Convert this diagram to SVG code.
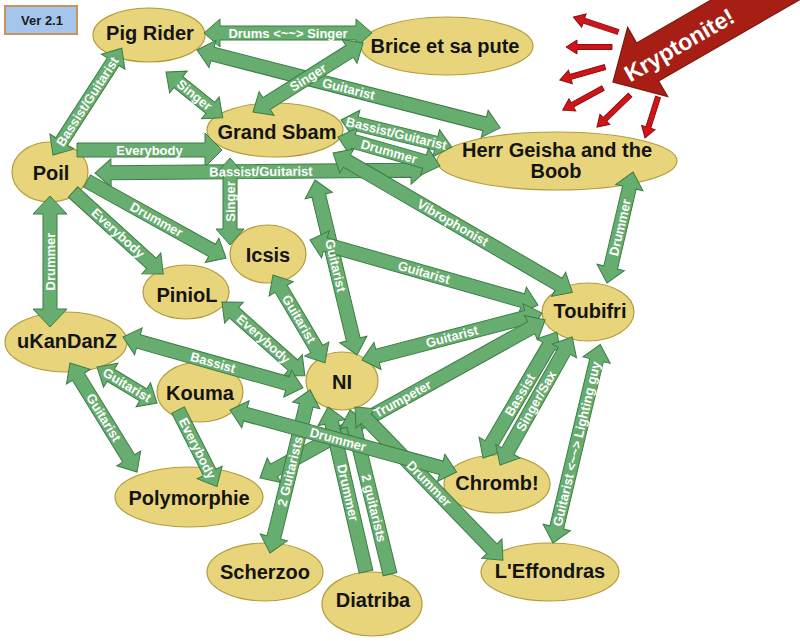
<svg xmlns="http://www.w3.org/2000/svg" width="800" height="641" viewBox="0 0 800 641">
<style>
.bg{fill:#ffffff}
.node ellipse{fill:#e8d47a;stroke:#b39c3c;stroke-width:1.2}
.nt{font-family:"Liberation Sans",Arial,sans-serif;font-weight:bold;font-size:20px;fill:#141414;text-anchor:middle}
.arr polygon{fill:#67ad6f;stroke:#3b7d45;stroke-width:1}
.lbl{font-family:"Liberation Sans",Arial,sans-serif;font-weight:bold;font-size:13px;fill:#ffffff;text-anchor:middle}
.red{fill:#d2141a;stroke:#8a0f0f;stroke-width:1}
</style>
<rect class="bg" x="0" y="0" width="800" height="641"/>

<g id="version">
<rect x="5" y="6" width="72" height="28" fill="#a4c6ec" stroke="#c8945a" stroke-width="2"/>
<text x="42" y="25" font-family="Liberation Sans, Arial, sans-serif" font-weight="bold" font-size="13" fill="#1a1a1a" text-anchor="middle">Ver 2.1</text>
</g>

<g id="nodes">
<g id="pig-rider" class="node"><ellipse cx="149" cy="35" rx="56" ry="27"/><text class="nt" x="150" y="40">Pig Rider</text></g>
<g id="brice" class="node"><ellipse cx="447" cy="46" rx="86" ry="29"/><text class="nt" x="445" y="53">Brice et sa pute</text></g>
<g id="grand-sbam" class="node"><ellipse cx="275" cy="130" rx="68" ry="27"/><text class="nt" x="277" y="139">Grand Sbam</text></g>
<g id="herr-geisha" class="node"><ellipse cx="557" cy="161" rx="120" ry="29"/><text class="nt" x="557" y="157">Herr Geisha and the</text><text class="nt" x="556" y="178">Boob</text></g>
<g id="poil" class="node"><ellipse cx="50" cy="172" rx="38" ry="30"/><text class="nt" x="51" y="180">Poil</text></g>
<g id="icsis" class="node"><ellipse cx="268" cy="254" rx="38" ry="29"/><text class="nt" x="268" y="262">Icsis</text></g>
<g id="pinio" class="node"><ellipse cx="186" cy="292" rx="43" ry="27"/><text class="nt" x="187" y="302">PinioL</text></g>
<g id="ukandanz" class="node"><ellipse cx="66" cy="342" rx="61" ry="30"/><text class="nt" x="67" y="348">uKanDanZ</text></g>
<g id="ni" class="node"><ellipse cx="342" cy="381" rx="36" ry="29"/><text class="nt" x="342" y="389">NI</text></g>
<g id="toubifri" class="node"><ellipse cx="588" cy="312" rx="46" ry="29"/><text class="nt" x="590" y="318">Toubifri</text></g>
<g id="kouma" class="node"><ellipse cx="200" cy="392" rx="43" ry="30"/><text class="nt" x="200" y="400">Kouma</text></g>
<g id="polymorphie" class="node"><ellipse cx="189" cy="497" rx="74" ry="30"/><text class="nt" x="189" y="505">Polymorphie</text></g>
<g id="scherzoo" class="node"><ellipse cx="265" cy="572" rx="58" ry="29"/><text class="nt" x="265" y="579">Scherzoo</text></g>
<g id="diatriba" class="node"><ellipse cx="372" cy="604" rx="50" ry="32"/><text class="nt" x="373" y="607">Diatriba</text></g>
<g id="chromb" class="node"><ellipse cx="497" cy="484" rx="53" ry="29"/><text class="nt" x="497" y="490">Chromb!</text></g>
<g id="leffondras" class="node"><ellipse cx="550" cy="572" rx="69" ry="29"/><text class="nt" x="550" y="578">L'Effondras</text></g>
</g>

<g id="connectors" class="arr">
<polygon transform="translate(204,33)" points="0,0 16,-14 16,-7 152,-7 152,-14 168,0 152,14 152,7 16,7 16,14"/>
<polygon transform="translate(53,155) rotate(-57.2)" points="0,0 16,-14 16,-7 111,-7 111,-14 127,0 111,14 111,7 16,7 16,14"/>
<polygon transform="translate(166,72) rotate(38.9)" points="0,0 16,-14 16,-7 57,-7 57,-14 73,0 57,14 57,7 16,7 16,14"/>
<polygon transform="translate(197,50) rotate(14.4)" points="0,0 16,-14 16,-7 297,-7 297,-14 313,0 297,14 297,7 16,7 16,14"/>
<polygon transform="translate(253,112) rotate(-32.1)" points="0,0 16,-14 16,-7 114,-7 114,-14 130,0 114,14 114,7 16,7 16,14"/>
<polygon transform="translate(77,150)" points="0,-7 128,-7 128,-17 145,0 128,17 128,7 0,7"/>
<polygon transform="translate(315,180) rotate(76.5)" points="0,0 16,-14 16,-7 164,-7 164,-14 180,0 164,14 164,7 16,7 16,14"/>
<polygon transform="translate(95,173) rotate(-0.5)" points="0,0 16,-14 16,-7 316,-7 316,-14 332,0 316,14 316,7 16,7 16,14"/>
<polygon transform="translate(341,120) rotate(13.7)" points="0,0 16,-14 16,-7 98,-7 98,-14 114,0 98,14 98,7 16,7 16,14"/>
<polygon transform="translate(338,137) rotate(15.9)" points="0,0 16,-14 16,-7 90,-7 90,-14 106,0 90,14 90,7 16,7 16,14"/>
<polygon transform="translate(230,245) rotate(-90)" points="0,0 16,-14 16,-7 71,-7 71,-14 87,0 71,14 71,7 16,7 16,14"/>
<polygon transform="translate(73,192) rotate(42.3)" points="0,-7 106,-7 106,-14 122,0 106,14 106,7 0,7"/>
<polygon transform="translate(87,181) rotate(29)" points="0,-7 143,-7 143,-14 159,0 143,14 143,7 0,7"/>
<polygon transform="translate(50,327) rotate(-90)" points="0,0 18,-17 18,-7 113,-7 113,-17 131,0 113,17 113,7 18,7 18,17"/>
<polygon transform="translate(273,275) rotate(59.4)" points="0,0 16,-14 16,-7 86,-7 86,-14 102,0 86,14 86,7 16,7 16,14"/>
<polygon transform="translate(222,302) rotate(41.7)" points="0,0 16,-14 16,-7 95,-7 95,-14 111,0 95,14 95,7 16,7 16,14"/>
<polygon transform="translate(123,337) rotate(15.8)" points="0,0 16,-14 16,-7 171,-7 171,-14 187,0 171,14 171,7 16,7 16,14"/>
<polygon transform="translate(333,153) rotate(30.2)" points="0,0 16,-14 16,-7 261,-7 261,-14 277,0 261,14 261,7 16,7 16,14"/>
<polygon transform="translate(310,240) rotate(15.9)" points="0,0 16,-14 16,-7 221,-7 221,-14 237,0 221,14 221,7 16,7 16,14"/>
<polygon transform="translate(362,360) rotate(-14.6)" points="0,0 16,-14 16,-7 170,-7 170,-14 186,0 170,14 170,7 16,7 16,14"/>
<polygon transform="translate(260,478) rotate(-29)" points="0,0 16,-14 16,-7 310,-7 310,-14 326,0 310,14 310,7 16,7 16,14"/>
<polygon transform="translate(270,553) rotate(-76.2)" points="0,0 16,-14 16,-7 152,-7 152,-14 168,0 152,14 152,7 16,7 16,14"/>
<polygon transform="translate(328,407) rotate(77)" points="0,0 16,-14 16,-7 169,-7 169,7 16,7 16,14"/>
<polygon transform="translate(350,410) rotate(76.3)" points="0,0 16,-14 16,-7 169,-7 169,7 16,7 16,14"/>
<polygon transform="translate(355,407) rotate(46)" points="0,0 16,-14 16,-7 197,-7 197,-14 213,0 197,14 197,7 16,7 16,14"/>
<polygon transform="translate(230,410) rotate(15.3)" points="0,0 16,-14 16,-7 219,-7 219,-14 235,0 219,14 219,7 16,7 16,14"/>
<polygon transform="translate(483,458) rotate(-59.6)" points="0,0 16,-14 16,-7 130,-7 130,-14 146,0 130,14 130,7 16,7 16,14"/>
<polygon transform="translate(500,465) rotate(-60.6)" points="0,0 16,-14 16,-7 131,-7 131,-14 147,0 131,14 131,7 16,7 16,14"/>
<polygon transform="translate(553,543) rotate(-76.6)" points="0,0 16,-14 16,-7 188,-7 188,-14 204,0 188,14 188,7 16,7 16,14"/>
<polygon transform="translate(607,283) rotate(-76.8)" points="0,0 16,-14 16,-7 98,-7 98,-14 114,0 98,14 98,7 16,7 16,14"/>
<polygon transform="translate(97,367) rotate(31)" points="0,0 16,-14 16,-7 54,-7 54,-14 70,0 54,14 54,7 16,7 16,14"/>
<polygon transform="translate(70,363) rotate(58.4)" points="0,0 16,-14 16,-7 112,-7 112,-14 128,0 112,14 112,7 16,7 16,14"/>
<polygon transform="translate(178,410) rotate(63.1)" points="0,-7 70,-7 70,-14 86,0 70,14 70,7 0,7"/>
</g>

<g id="connector-labels">
<text class="lbl" transform="translate(204,33)" x="84" y="4.5">Drums &lt;~~&gt; Singer</text>
<text class="lbl" transform="translate(53,155) rotate(-57.2)" x="63.5" y="4.5">Bassist/Guitarist</text>
<text class="lbl" transform="translate(166,72) rotate(38.9)" x="36.5" y="4.5">Singer</text>
<text class="lbl" transform="translate(197,50) rotate(14.4)" x="156.5" y="4.5">Guitarist</text>
<text class="lbl" transform="translate(253,112) rotate(-32.1)" x="65" y="4.5">Singer</text>
<text class="lbl" transform="translate(77,150)" x="72.5" y="4.5">Everybody</text>
<text class="lbl" transform="translate(315,180) rotate(76.5)" x="88" y="4.5">Guitarist</text>
<text class="lbl" transform="translate(95,173) rotate(-0.5)" x="166" y="4.5">Bassist/Guitarist</text>
<text class="lbl" transform="translate(341,120) rotate(13.7)" x="57" y="4.5">Bassist/Guitarist</text>
<text class="lbl" transform="translate(338,137) rotate(15.9)" x="53" y="4.5">Drummer</text>
<text class="lbl" transform="translate(230,245) rotate(-90)" x="43.5" y="4.5">Singer</text>
<text class="lbl" transform="translate(73,192) rotate(42.3)" x="61" y="4.5">Everybody</text>
<text class="lbl" transform="translate(87,181) rotate(29)" x="79.5" y="4.5">Drummer</text>
<text class="lbl" transform="translate(50,327) rotate(-90)" x="65.5" y="4.5">Drummer</text>
<text class="lbl" transform="translate(273,275) rotate(59.4)" x="51" y="4.5">Guitarist</text>
<text class="lbl" transform="translate(222,302) rotate(41.7)" x="55.5" y="4.5">Everybody</text>
<text class="lbl" transform="translate(123,337) rotate(15.8)" x="93.5" y="4.5">Bassist</text>
<text class="lbl" transform="translate(333,153) rotate(30.2)" x="138.5" y="4.5">Vibrophonist</text>
<text class="lbl" transform="translate(310,240) rotate(15.9)" x="118.5" y="4.5">Guitarist</text>
<text class="lbl" transform="translate(362,360) rotate(-14.6)" x="93" y="4.5">Guitarist</text>
<text class="lbl" transform="translate(260,478) rotate(-29)" x="163" y="4.5">Trumpeter</text>
<text class="lbl" transform="translate(270,553) rotate(-76.2)" x="84" y="4.5">2 Guitarists</text>
<text class="lbl" transform="translate(328,407) rotate(77)" x="88" y="4.5">Drummer</text>
<text class="lbl" transform="translate(350,410) rotate(76.3)" x="101" y="4.5">2 guitarists</text>
<text class="lbl" transform="translate(355,407) rotate(46)" x="106.5" y="4.5">Drummer</text>
<text class="lbl" transform="translate(230,410) rotate(15.3)" x="112" y="4.5">Drummer</text>
<text class="lbl" transform="translate(483,458) rotate(-59.6)" x="73" y="4.5">Bassist</text>
<text class="lbl" transform="translate(500,465) rotate(-60.6)" x="73.5" y="4.5">Singer/Sax</text>
<text class="lbl" transform="translate(553,543) rotate(-76.6)" x="102" y="4.5">Guitarist &lt;~~&gt; Lighting guy</text>
<text class="lbl" transform="translate(607,283) rotate(-76.8)" x="57" y="4.5">Drummer</text>
<text class="lbl" transform="translate(97,367) rotate(31)" x="35" y="4.5">Guitarist</text>
<text class="lbl" transform="translate(70,363) rotate(58.4)" x="64" y="4.5">Guitarist</text>
<text class="lbl" transform="translate(178,410) rotate(63.1)" x="43" y="4.5">Everybody</text>
</g>

<g id="kryptonite">
<g transform="translate(613,82) rotate(-30)">
<polygon points="0,0 40,-40 40,-22 260,-22 260,22 40,22 40,40" fill="#a61e14" stroke="#7d1a10" stroke-width="1.2"/>
<text x="76" y="9" font-family="Liberation Sans, Arial, sans-serif" font-weight="bold" font-size="23" fill="#ffffff" text-anchor="middle">Kryptonite!</text>
</g>
<polygon class="red" transform="translate(618,32) rotate(198.4)" points="0,-2.5 36,-2.5 36,-7 47,0 36,7 36,2.5 0,2.5"/>
<polygon class="red" transform="translate(612,47) rotate(180)" points="0,-2.5 35,-2.5 35,-7 46,0 35,7 35,2.5 0,2.5"/>
<polygon class="red" transform="translate(605,67) rotate(163.9)" points="0,-2.5 36,-2.5 36,-7 47,0 36,7 36,2.5 0,2.5"/>
<polygon class="red" transform="translate(603,88) rotate(151.2)" points="0,-2.5 35,-2.5 35,-7 46,0 35,7 35,2.5 0,2.5"/>
<polygon class="red" transform="translate(630,95) rotate(135.9)" points="0,-2.5 35,-2.5 35,-7 46,0 35,7 35,2.5 0,2.5"/>
<polygon class="red" transform="translate(658,97) rotate(107.6)" points="0,-2.5 32,-2.5 32,-7 43,0 32,7 32,2.5 0,2.5"/>
</g>
</svg>
